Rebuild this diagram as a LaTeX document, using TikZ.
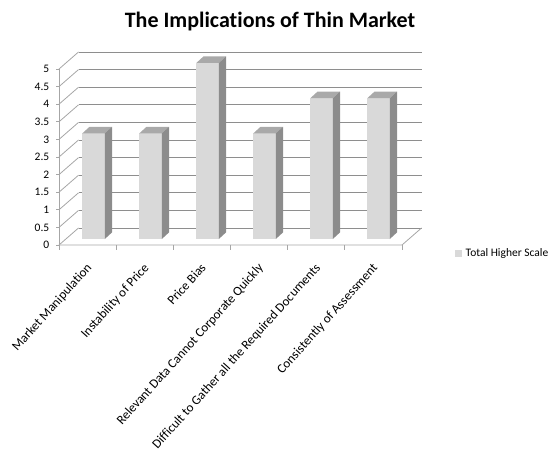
\documentclass[tikz,border=0pt]{standalone}
\usepackage{fontspec}
\setmainfont{Carlito}[Ligatures=CommonOff]
\definecolor{barfront}{HTML}{D9D9D9}
\definecolor{bartop}{HTML}{A9A9A9}
\definecolor{barside}{HTML}{8C8C8C}
\definecolor{gridc}{HTML}{8E8E8E}
\definecolor{axisc}{HTML}{A6A6A6}
\begin{document}
\begin{tikzpicture}[x=1pt,y=-1pt,
  gridline/.style={draw=gridc,line width=0.8pt},
  axisline/.style={draw=axisc,line width=0.8pt},
  ylab/.style={anchor=east,inner sep=0pt,font=\fontsize{11.5}{13}\selectfont},
  xlab/.style={anchor=north east,rotate=48,inner sep=0pt,font=\fontsize{13}{15}\selectfont},
  front/.style={fill=barfront,draw=none},
  topf/.style={fill=bartop,draw=none},
  sidef/.style={fill=barside,draw=none}]
\useasboundingbox (0,0) rectangle (553,457);
% title
\node (title) at (270,22) {\fontsize{22}{25}\selectfont\bfseries The Implications of Thin Market};
% back gridlines and left wall diagonals
\foreach \k in {0,...,10}{
  \pgfmathsetmacro{\yb}{228-\k*17.6}
  \pgfmathsetmacro{\yf}{245-\k*17.6}
  \draw[gridline] (78.5,\yb) -- (421.5,\yb);
  \draw[axisline] (59,\yf) -- (78.5,\yb);
  \draw[axisline] (56,\yf) -- (59,\yf);
}
% floor
\draw[axisline] (59,245) -- (402,245) -- (421.5,228);
\draw[axisline] (59,245) -- (59,69);
\foreach \j in {0,...,6}{
  \draw[axisline] (59+\j*57.17,245) -- (59+\j*57.17,250);
}
% y labels
\foreach \k/\t in {0/0,1/0.5,2/1,3/1.5,4/2,5/2.5,6/3,7/3.5,8/4,9/4.5,10/5}{
  \node[ylab] (y\k) at (49.5,245-\k*17.6) {\t};
}
% bars
\foreach \i/\v in {1/3,2/3,3/5,4/3,5/4,6/4}{
  \pgfmathsetmacro{\xl}{82.3+(\i-1)*57.0}
  \pgfmathsetmacro{\xr}{\xl+22.5}
  \pgfmathsetmacro{\yt}{239-\v*35.2}
  \fill[front] (\xl,239) rectangle (\xr,\yt);
  \fill[topf] (\xl,\yt) -- (\xl+7.2,\yt-6.6) -- (\xr+7.2,\yt-6.6) -- (\xr,\yt) -- cycle;
  \fill[sidef] (\xr,239) -- (\xr,\yt) -- (\xr+7.2,\yt-6.6) -- (\xr+7.2,239-6.6) -- cycle;
}
% x labels
\foreach \i/\t in {1/Market Manipulation,2/Instability of Price,3/Price Bias,4/Relevant Data Cannot Corporate Quickly,5/Difficult to Gather all the Required Documents,6/Consistently of Assessment}{
  \node[xlab] (x\i) at (59+\i*57.17-28.6-2,262) {\t};
}
% legend
\fill[barfront] (455,250) rectangle (462,257);
\node[anchor=west,inner sep=0pt,font=\fontsize{11.5}{13}\selectfont] (leg) at (465.5,253.5) {Total Higher Scale};
\end{tikzpicture}
\end{document}
